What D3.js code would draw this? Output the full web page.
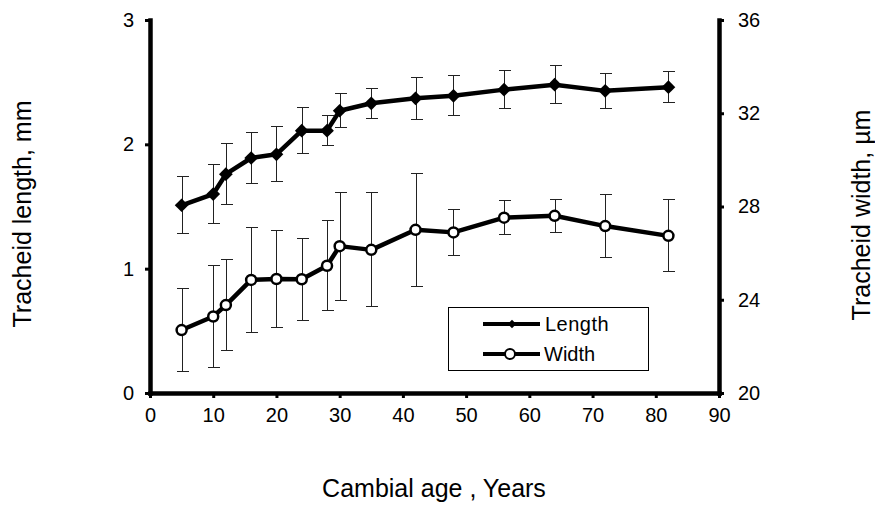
<!DOCTYPE html>
<html>
<head>
<meta charset="utf-8">
<script src="https://cdn.jsdelivr.net/npm/d3@7"></script>
<style>
  body { margin: 0; background: #fff; }
  svg { font-family: Arial, "Liberation Sans", sans-serif; }
  .axis .domain { stroke: #000; stroke-width: 4.5; stroke-linecap: square; }
  .axis .tick line { stroke: #000; stroke-width: 3; }
  .axis .tick text { font-size: 20px; fill: #000; }
  .title { font-size: 25px; fill: #000; }
</style>
</head>
<body>
<div class="chart"></div>
<script>
// Tracheid length (left axis) and width (right axis) vs cambial age

var ages = [5, 10, 12, 16, 20, 24, 28, 30, 35, 42, 48, 56, 64, 72, 82];
var lengthMean = [1.51, 1.60, 1.76, 1.89, 1.92, 2.11, 2.11, 2.27, 2.33, 2.37, 2.39, 2.44, 2.48, 2.43, 2.46];
var lengthErr = [0.23, 0.235, 0.245, 0.205, 0.22, 0.185, 0.12, 0.135, 0.12, 0.17, 0.16, 0.15, 0.155, 0.14, 0.125];
var widthMean = [22.7, 23.28, 23.77, 24.85, 24.89, 24.88, 25.46, 26.3, 26.14, 27.0, 26.89, 27.52, 27.6, 27.16, 26.74];
var widthErr = [1.78, 2.17, 1.95, 2.27, 2.1, 1.75, 1.92, 2.32, 2.45, 2.42, 1.0, 0.72, 0.7, 1.35, 1.54];

var xTicks = [0, 10, 20, 30, 40, 50, 60, 70, 80, 90];
var lengthTicks = [0, 1, 2, 3];
var widthTicks = [20, 24, 28, 32, 36];

var svgWidth = 875;
var svgHeight = 507;

var margin = { top: 20, right: 156, bottom: 114, left: 150 };
var width = svgWidth - margin.left - margin.right;
var height = svgHeight - margin.top - margin.bottom;

var svg = d3.select(".chart")
  .append("svg")
  .attr("width", svgWidth)
  .attr("height", svgHeight);

var chartGroup = svg.append("g")
  .attr("transform", `translate(${margin.left}, ${margin.top})`);

var xScale = d3.scaleLinear().domain([0, 90]).range([0, width]);
var yLeft = d3.scaleLinear().domain([0, 3]).range([height, 0]);
var yRight = d3.scaleLinear().domain([20, 36]).range([height, 0]);

// axes
var xAxis = chartGroup.append("g")
  .attr("class", "axis")
  .attr("transform", `translate(0, ${height})`)
  .call(d3.axisBottom(xScale).tickValues(xTicks).tickFormat(d3.format("d"))
    .tickSize(5).tickSizeOuter(0).tickPadding(10));

var leftAxis = chartGroup.append("g")
  .attr("class", "axis")
  .call(d3.axisLeft(yLeft).tickValues(lengthTicks).tickFormat(d3.format("d"))
    .tickSize(5).tickSizeOuter(0).tickPadding(11));

var rightAxis = chartGroup.append("g")
  .attr("class", "axis")
  .attr("transform", `translate(${width}, 0)`)
  .call(d3.axisRight(yRight).tickValues(widthTicks).tickFormat(d3.format("d"))
    .tickSize(5).tickSizeOuter(0).tickPadding(14));

// error bars
function drawErrors(means, errs, yScale) {
  var g = chartGroup.append("g")
    .attr("stroke", "#222")
    .attr("stroke-width", 1)
    .attr("shape-rendering", "crispEdges");
  ages.forEach(function(a, i) {
    var x = Math.round(xScale(a)) + 0.5;
    var y1 = yScale(means[i] + errs[i]);
    var y2 = yScale(means[i] - errs[i]);
    g.append("line").attr("x1", x).attr("x2", x).attr("y1", y1).attr("y2", y2);
    g.append("line").attr("x1", x - 6).attr("x2", x + 6).attr("y1", y1).attr("y2", y1);
    g.append("line").attr("x1", x - 6).attr("x2", x + 6).attr("y1", y2).attr("y2", y2);
  });
}
drawErrors(lengthMean, lengthErr, yLeft);
drawErrors(widthMean, widthErr, yRight);

// lines
var lengthLine = d3.line()
  .x(function(d, i) { return xScale(ages[i]); })
  .y(function(d) { return yLeft(d); });

var widthLine = d3.line()
  .x(function(d, i) { return xScale(ages[i]); })
  .y(function(d) { return yRight(d); });

chartGroup.append("path")
  .datum(lengthMean)
  .attr("d", lengthLine)
  .attr("fill", "none")
  .attr("stroke", "#000")
  .attr("stroke-width", 4.5)
  .attr("stroke-linejoin", "round");

chartGroup.append("path")
  .datum(widthMean)
  .attr("d", widthLine)
  .attr("fill", "none")
  .attr("stroke", "#000")
  .attr("stroke-width", 4.5)
  .attr("stroke-linejoin", "round");

// markers
var diamond = d3.symbol().type(d3.symbolDiamond2).size(120);

chartGroup.selectAll(".diamond")
  .data(lengthMean)
  .enter()
  .append("path")
  .attr("class", "diamond")
  .attr("d", diamond)
  .attr("transform", function(d, i) { return `translate(${xScale(ages[i])}, ${yLeft(d)})`; })
  .attr("fill", "#000");

chartGroup.selectAll(".dot")
  .data(widthMean)
  .enter()
  .append("circle")
  .attr("class", "dot")
  .attr("cx", function(d, i) { return xScale(ages[i]); })
  .attr("cy", function(d) { return yRight(d); })
  .attr("r", 5)
  .attr("fill", "#fff")
  .attr("stroke", "#000")
  .attr("stroke-width", 2.5);

// legend
var legend = svg.append("g").attr("transform", "translate(448, 307)");

legend.append("rect")
  .attr("x", 0.5).attr("y", 0.5)
  .attr("width", 200).attr("height", 63)
  .attr("fill", "#fff")
  .attr("stroke", "#000")
  .attr("stroke-width", 1);

legend.append("line")
  .attr("x1", 35).attr("x2", 92).attr("y1", 17).attr("y2", 17)
  .attr("stroke", "#000").attr("stroke-width", 4);
legend.append("path")
  .attr("d", d3.symbol().type(d3.symbolDiamond2).size(45))
  .attr("transform", "translate(64, 17)")
  .attr("fill", "#000");
legend.append("text")
  .attr("x", 97).attr("y", 24)
  .attr("font-size", "20px")
  .attr("letter-spacing", "0.5px")
  .text("Length");

legend.append("line")
  .attr("x1", 35).attr("x2", 92).attr("y1", 47).attr("y2", 47)
  .attr("stroke", "#000").attr("stroke-width", 4);
legend.append("circle")
  .attr("cx", 62).attr("cy", 47).attr("r", 5)
  .attr("fill", "#fff").attr("stroke", "#000").attr("stroke-width", 2);
legend.append("text")
  .attr("x", 96).attr("y", 54)
  .attr("font-size", "20px")
  .text("Width");

// axis titles
svg.append("text")
  .attr("class", "title")
  .attr("transform", "translate(31, 214) rotate(-90)")
  .attr("text-anchor", "middle")
  .text("Tracheid length, mm");

svg.append("text")
  .attr("class", "title")
  .attr("transform", "translate(870, 215) rotate(-90)")
  .attr("text-anchor", "middle")
  .text("Tracheid width, µm");

svg.append("text")
  .attr("class", "title")
  .attr("x", 434)
  .attr("y", 497)
  .attr("text-anchor", "middle")
  .text("Cambial age , Years");
</script>
</body>
</html>
